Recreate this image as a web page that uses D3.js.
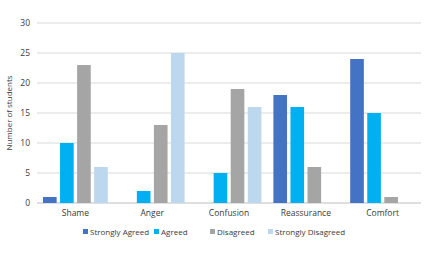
<!DOCTYPE html>
<html>
<head>
<meta charset="utf-8">
<script src="https://cdn.jsdelivr.net/npm/d3@7"></script>
<style>
  body { margin: 0; background: #fff; }
  svg text { font-family: "Open Sans", sans-serif; fill: #3a3a3a; }
</style>
</head>
<body>
<svg id="chart" width="435" height="253"></svg>
<script>
// Chart data
const categories = ['Shame', 'Anger', 'Confusion', 'Reassurance', 'Comfort'];
const seriesNames = ['Strongly Agreed', 'Agreed', 'Disagreed', 'Strongly Disagreed'];
const stronglyAgreed = [1, 0, 0, 18, 24];
const agreed = [10, 2, 5, 16, 15];
const disagreed = [23, 13, 19, 6, 1];
const stronglyDisagreed = [6, 25, 16, 0, 0];
const yTicks = [0, 5, 10, 15, 20, 25, 30];
const colors = ['#4472c4', '#00b0f0', '#a5a5a5', '#bdd7ee'];

const seriesValues = [stronglyAgreed, agreed, disagreed, stronglyDisagreed];
const rows = [];
categories.forEach((cat, i) => {
  seriesNames.forEach((s, j) => rows.push({ cat, series: s, value: seriesValues[j][i] }));
});

const margin = { top: 23, right: 14, bottom: 50, left: 37 };
const width = 435 - margin.left - margin.right;
const height = 253 - margin.top - margin.bottom;

const svg = d3.select('#chart')
  .append('g')
  .attr('transform', `translate(${margin.left},${margin.top})`);

const x = d3.scaleBand().domain(categories).range([0, width]).paddingInner(0).paddingOuter(0);
const x1 = d3.scaleBand().domain(seriesNames).range([6, x.bandwidth() - 6]).paddingInner(0.2);
const y = d3.scaleLinear().domain([0, 30]).range([height, 0]);

// gridlines
svg.append('g')
  .selectAll('line')
  .data(yTicks)
  .join('line')
  .attr('x1', 0)
  .attr('x2', width)
  .attr('y1', (d) => y(d))
  .attr('y2', (d) => y(d))
  .attr('stroke', (d) => (d === 0 ? '#bfbfbf' : '#d9d9d9'))
  .attr('stroke-width', 1);

// y tick labels
svg.append('g')
  .selectAll('text')
  .data(yTicks)
  .join('text')
  .attr('x', -7)
  .attr('y', (d) => y(d))
  .attr('dy', '0.35em')
  .attr('text-anchor', 'end')
  .attr('font-size', 8.5)
  .text((d) => d);

// bars
svg.append('g')
  .selectAll('rect')
  .data(rows)
  .join('rect')
  .attr('x', (d) => x(d.cat) + x1(d.series))
  .attr('y', (d) => y(d.value))
  .attr('width', x1.bandwidth())
  .attr('height', (d) => height - y(d.value))
  .attr('fill', (d) => colors[seriesNames.indexOf(d.series)]);

// category labels
svg.append('g')
  .selectAll('text')
  .data(categories)
  .join('text')
  .attr('x', (d) => x(d) + x.bandwidth() / 2)
  .attr('y', height + 13)
  .attr('text-anchor', 'middle')
  .attr('font-size', 8.5)
  .text((d) => d);

// y axis title
svg.append('text')
  .attr('transform', `translate(${-25},${height / 2}) rotate(-90)`)
  .attr('text-anchor', 'middle')
  .attr('font-size', 8)
  .text('Number of students');

// legend
const legendX = [83, 154, 210, 268];
const legend = d3.select('#chart').append('g').attr('transform', 'translate(0,232)');
seriesNames.forEach((s, i) => {
  legend.append('rect')
    .attr('x', legendX[i])
    .attr('y', -3)
    .attr('width', 5)
    .attr('height', 5)
    .attr('fill', colors[i]);
  legend.append('text')
    .attr('x', legendX[i] + 7)
    .attr('y', 0)
    .attr('dy', '0.35em')
    .attr('font-size', 8)
    .text(s);
});
</script>
</body>
</html>
